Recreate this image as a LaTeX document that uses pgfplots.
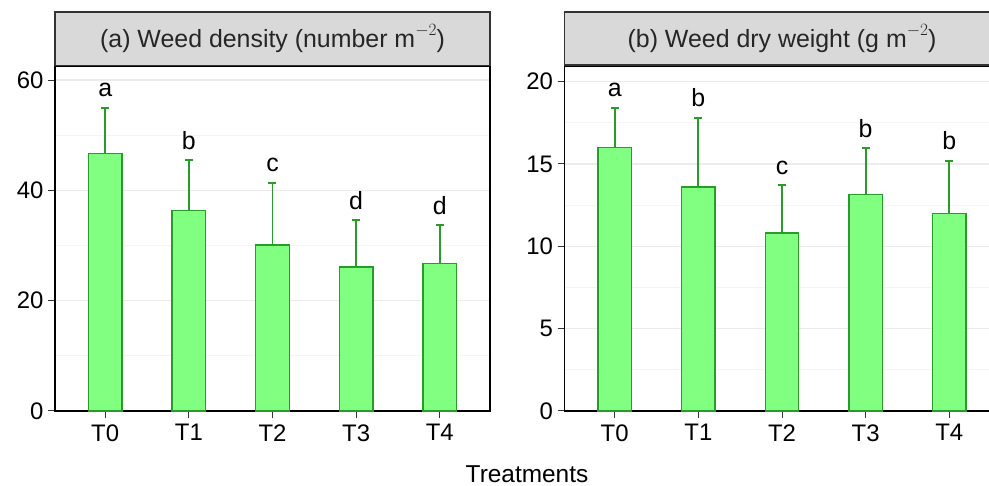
\documentclass[border=0pt]{standalone}
\usepackage{pgfplots}
\pgfplotsset{compat=1.18}
\usepackage{pgfplotstable}
\usepackage{fontspec}
\setmainfont{Liberation Sans}
\definecolor{barfill}{HTML}{80FF80}
\definecolor{barline}{HTML}{2A9A2A}
\definecolor{stripfill}{HTML}{D9D9D9}
\definecolor{stripline}{HTML}{333333}
\definecolor{gridmaj}{HTML}{EBEBEB}
\definecolor{gridmin}{HTML}{F4F4F4}

\pgfplotstableread{
x y e lab
0 46.7 8.3 a
1 36.4 9.1 b
2 30.1 11.3 c
3 26.1 8.5 d
4 26.7 7.0 d
}\dataA

\pgfplotstableread{
x y e lab
0 16.0 2.4 a
1 13.6 4.2 b
2 10.8 2.9 c
3 13.15 2.8 b
4 12.0 3.2 b
}\dataB

\newcommand{\msup}{\raisebox{0.48em}{\fontsize{16}{16}\selectfont$-2$}}

\pgfplotsset{panel/.style={
  scale only axis, width=435bp, height=345bp, anchor=south west,
  xmin=-0.6, xmax=4.6, ymin=0,
  xtick={0,1,2,3,4}, xticklabels={T0,T1,T2,T3,T4},
  axis line style={black, line width=1.4bp},
  tick style={color=black!80, line width=1bp},
  major tick length=7bp, minor tick length=0pt,
  tickpos=left, tick align=outside,
  ymajorgrids, yminorgrids, minor y tick num=1,
  major grid style={gridmaj, line width=1.3bp},
  minor grid style={gridmin, line width=0.8bp},
  ticklabel style={font=\fontsize{24}{28}\selectfont, text=black},
  /pgf/number format/assume math mode=true,
  yticklabel style={xshift=-1bp},
  xticklabel style={yshift=-3bp},
  every axis title shift=0pt,
  title style={at={(0.5,1)}, anchor=south, fill=stripfill, draw=stripline, line width=1.5bp,
    minimum width=435bp, minimum height=53bp, inner sep=0pt,
    font=\fontsize{25}{30}\selectfont, text=black!85},
  clip=false,
},
bars/.style={ybar, bar width=0.4, bar shift=0pt, fill=barfill, draw=barline, line width=1.4bp,
  error bars/.cd, y dir=plus, y explicit,
  error bar style={barline, line width=1.8bp},
  error mark=|,
  error mark options={barline, line width=1.8bp, mark size=4bp}},
letters/.style={draw=none, mark=none, nodes near coords, point meta=explicit symbolic,
  nodes near coords style={anchor=base, yshift=11bp, inner sep=0pt, font=\fontsize{25}{30}\selectfont, text=black}}
}

\begin{document}
\begin{tikzpicture}
\useasboundingbox (0,0) rectangle (989bp,486bp);
\begin{axis}[panel, at={(55bp,75bp)}, ymax=62.55, ytick={0,20,40,60},
  title={(a) Weed density (number m\msup)}]
\addplot[bars] table[x=x, y=y, y error=e]{\dataA};
\addplot[letters] table[x=x, y expr=\thisrow{y}+\thisrow{e}, meta=lab]{\dataA};
\end{axis}
\begin{axis}[panel, at={(564.5bp,75bp)}, ymax=20.95, ytick={0,5,10,15,20},
  title={(b) Weed dry weight (g m\msup)}]
\addplot[bars] table[x=x, y=y, y error=e]{\dataB};
\addplot[letters] table[x=x, y expr=\thisrow{y}+\thisrow{e}, meta=lab]{\dataB};
\end{axis}
\node[anchor=base, font=\fontsize{24.5}{28}\selectfont] at (527bp,4bp) {Treatments};
\end{tikzpicture}
\end{document}
